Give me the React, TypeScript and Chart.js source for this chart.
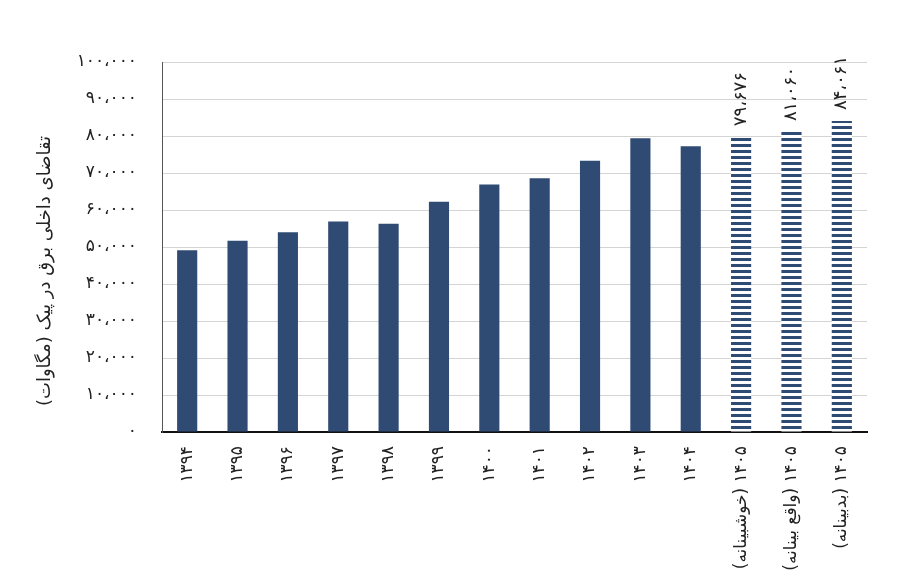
import React, { useEffect, useRef } from "react";
import { Chart, registerables } from "chart.js";

Chart.register(...registerables);

const categories: string[] = [
  "۱۳۹۴", "۱۳۹۵", "۱۳۹۶", "۱۳۹۷", "۱۳۹۸", "۱۳۹۹", "۱۴۰۰", "۱۴۰۱", "۱۴۰۲", "۱۴۰۳", "۱۴۰۴",
  "\u2067۱۴۰۵ (خوشبینانه)\u2069",
  "\u2067۱۴۰۵ (واقع بینانه)\u2069",
  "\u2067۱۴۰۵ (بدبینانه)\u2069",
];

const demandValues: number[] = [
  49100, 51700, 54000, 56900, 56300, 62200, 66900, 68600, 73300, 79400, 77200,
  79676, 81060, 84061,
];

const forecastFlags: boolean[] = [
  false, false, false, false, false, false, false, false, false, false, false,
  true, true, true,
];

const forecastLabels: string[] = ["", "", "", "", "", "", "", "", "", "", "", "۷۹،۶۷۶", "۸۱،۰۶۰", "۸۴،۰۶۱"];

const yTitle = "تقاضای داخلی برق در پیک (مگاوات)";

const NAVY = "#2f4b74";
const TEXT = "#222222";
const FONT = "'DejaVu Sans', sans-serif";

const persianDigits = "۰۱۲۳۴۵۶۷۸۹";
function toPersian(n: number): string {
  const s = Math.round(n).toString().replace(/\B(?=(\d{3})+(?!\d))/g, "،");
  return s.replace(/\d/g, (d) => persianDigits[Number(d)]);
}

export default function App() {
  const ref = useRef<HTMLCanvasElement | null>(null);

  useEffect(() => {
    const canvas = ref.current;
    if (!canvas) return;

    const pc = document.createElement("canvas");
    pc.width = 6;
    pc.height = 6;
    const pctx = pc.getContext("2d")!;
    pctx.fillStyle = "#ffffff";
    pctx.fillRect(0, 0, 6, 6);
    pctx.fillStyle = NAVY;
    pctx.fillRect(0, 0, 6, 3);
    const ctx0 = canvas.getContext("2d")!;
    const pattern = ctx0.createPattern(pc, "repeat");

    const colors = forecastFlags.map((f) => (f ? pattern : NAVY));

    const overlayPlugin = {
      id: "overlay",
      afterDatasetsDraw(chart: any) {
        const ctx = chart.ctx;
        const meta = chart.getDatasetMeta(0);
        ctx.save();
        ctx.fillStyle = TEXT;
        ctx.font = `18px ${FONT}`;
        meta.data.forEach((el: any, i: number) => {
          const lbl = forecastLabels[i];
          if (!lbl) return;
          ctx.save();
          ctx.translate(el.x, el.y - 11);
          ctx.rotate(-Math.PI / 2);
          ctx.textAlign = "left";
          ctx.textBaseline = "middle";
          ctx.fillText(lbl, 0, 0);
          ctx.restore();
        });
        // y-axis title
        ctx.save();
        ctx.translate(45, 271);
        ctx.rotate(-Math.PI / 2);
        ctx.direction = "rtl";
        ctx.textAlign = "center";
        ctx.textBaseline = "middle";
        ctx.font = `18px ${FONT}`;
        ctx.fillText(yTitle, 0, 0);
        ctx.restore();
        ctx.restore();
      },
    };

    const chart = new Chart(canvas, {
      type: "bar",
      data: {
        labels: categories,
        datasets: [
          {
            data: demandValues,
            backgroundColor: colors as any,
            borderWidth: 0,
            barPercentage: 0.4,
            categoryPercentage: 1,
          },
        ],
      },
      options: {
        responsive: false,
        animation: false,
        layout: { padding: { top: 62, right: 33, left: 0, bottom: 0 } },
        plugins: {
          legend: { display: false },
          tooltip: { enabled: false },
          title: { display: false },
        },
        scales: {
          x: {
            grid: { display: false, drawTicks: false },
            border: { display: true, color: "#111111", width: 2 },
            ticks: {
              autoSkip: false,
              minRotation: 90,
              maxRotation: 90,
              padding: 14,
              color: TEXT,
              font: { family: FONT, size: 17 },
            },
            afterFit: (scale: any) => {
              scale.height = 156;
            },
          },
          y: {
            min: 0,
            max: 100000,
            grid: { color: "#d4d4d4", lineWidth: 1, drawTicks: false },
            border: { display: true, color: "#555555", width: 1 },
            ticks: {
              stepSize: 10000,
              padding: 25,
              color: TEXT,
              font: { family: FONT, size: 17 },
              callback: (v: any) => toPersian(Number(v)),
            },
            afterFit: (scale: any) => {
              scale.width = 162;
            },
          },
        },
      },
      plugins: [overlayPlugin],
    });

    return () => chart.destroy();
  }, []);

  return (
    <div style={{ position: "absolute", left: 0, top: 0, width: 900, height: 588, background: "#fff" }}>
      <canvas ref={ref} width={900} height={588} style={{ display: "block" }} />
    </div>
  );
}
